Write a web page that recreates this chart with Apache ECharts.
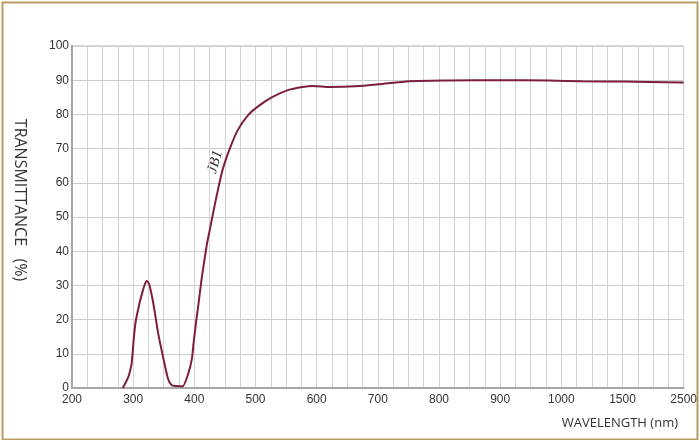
<!DOCTYPE html>
<html>
<head>
<meta charset="utf-8">
<script src="https://cdn.jsdelivr.net/npm/echarts@6/dist/echarts.min.js"></script>
<style>html,body{margin:0;padding:0;background:#fff}#c{width:700px;height:440px}</style>
</head>
<body>
<div id="c"></div>
<script>
// Data
var wavelength = [283, 292, 297, 299, 301, 304, 310, 314, 318, 322, 326, 333, 341, 349, 357, 363, 370, 381, 390, 396, 399, 403, 406, 412, 420, 425, 436, 446, 458, 471, 488, 507, 528, 553, 577, 594, 621, 664, 702, 751, 816, 900, 980, 1170, 1500, 1930, 2500];
var transmittance = [0, 3.2, 6.6, 10, 14.5, 19.3, 24.5, 27.3, 29.8, 31.3, 30.5, 24.7, 15.9, 9, 2.7, 0.8, 0.6, 0.5, 4.2, 8.5, 13.5, 19.5, 23.5, 32, 41.5, 46, 55.8, 63.7, 70, 75.4, 79.8, 82.7, 85.1, 87.1, 88, 88.3, 88, 88.2, 88.8, 89.7, 89.9, 90, 89.9, 89.7, 89.6, 89.5, 89.3];
var xTickLabels = ['200', '300', '400', '500', '600', '700', '800', '900', '1000', '1500', '2500'];
var yTickLabels = ['0', '10', '20', '30', '40', '50', '60', '70', '80', '90', '100'];
var seriesName = 'JB1';

// Piecewise axis scale: 100 nm steps up to 1000, then 1000-1500 and 1500-2500 as one step each
function toAxis(l) {
  if (l <= 1000) return (l - 200) / 100;
  if (l <= 1500) return 8 + (l - 1000) / 500;
  return 9 + (l - 1500) / 1000;
}
var points = wavelength.map(function (l, i) { return [toAxis(l), transmittance[i]]; });

var chart = echarts.init(document.getElementById('c'));
chart.setOption({
  animation: false,
  backgroundColor: '#fff',
  grid: { left: 72, right: 15, top: 46, bottom: 52, show: true, borderColor: '#b4b4b4', borderWidth: 1 },
  xAxis: {
    type: 'value', min: 0, max: 10, interval: 1,
    axisLine: { show: true, onZero: false, lineStyle: { color: '#a6a6a6', width: 2 } },
    axisTick: { show: false },
    minorTick: { show: false, splitNumber: 4 },
    splitLine: { show: true, lineStyle: { color: '#d4d4d4', width: 1 } },
    minorSplitLine: { show: true, lineStyle: { color: '#d4d4d4', width: 1 } },
    axisLabel: { color: '#333', fontSize: 12, margin: 6, fontFamily: 'Liberation Sans, Arial, sans-serif',
      formatter: function (v) { return xTickLabels[Math.round(v)]; } }
  },
  yAxis: {
    type: 'value', min: 0, max: 100, interval: 10,
    axisLine: { show: true, lineStyle: { color: '#a6a6a6', width: 2 } },
    axisTick: { show: false },
    splitLine: { show: true, lineStyle: { color: '#cccccc', width: 1 } },
    axisLabel: { color: '#333', fontSize: 12, margin: 3, verticalAlign: 'middle', padding: [0, 0, 8, 0],
      fontFamily: 'Liberation Sans, Arial, sans-serif',
      formatter: function (v) { return yTickLabels[Math.round(v / 10)]; } }
  },
  graphic: [
    { type: 'rect', left: 0, top: 0, shape: { x: 1, y: 1, width: 695, height: 437 },
      style: { fill: 'none', stroke: '#b89d62', lineWidth: 2 }, silent: true },
    { type: 'text', x: 20, y: 200, rotation: -Math.PI / 2,
      style: { text: 'TRANSMITTANCE   (%)', fill: '#333', font: '16px "Open Sans", sans-serif',
        textAlign: 'center', textVerticalAlign: 'middle' } },
    { type: 'text', x: 678, y: 423,
      style: { text: 'WAVELENGTH (nm)', fill: '#333', font: '13px "Open Sans", sans-serif',
        textAlign: 'right', textVerticalAlign: 'middle' } },
    { type: 'text', x: 215, y: 162, rotation: 1.3,
      style: { text: seriesName, fill: '#333', font: 'italic 15px "Liberation Serif", "DejaVu Serif", serif',
        textAlign: 'center', textVerticalAlign: 'middle' } }
  ],
  series: [{
    name: seriesName, type: 'line', data: points, smooth: 0.2, showSymbol: false,
    lineStyle: { color: '#7d1d42', width: 2 }
  }]
});
</script>
</body>
</html>
